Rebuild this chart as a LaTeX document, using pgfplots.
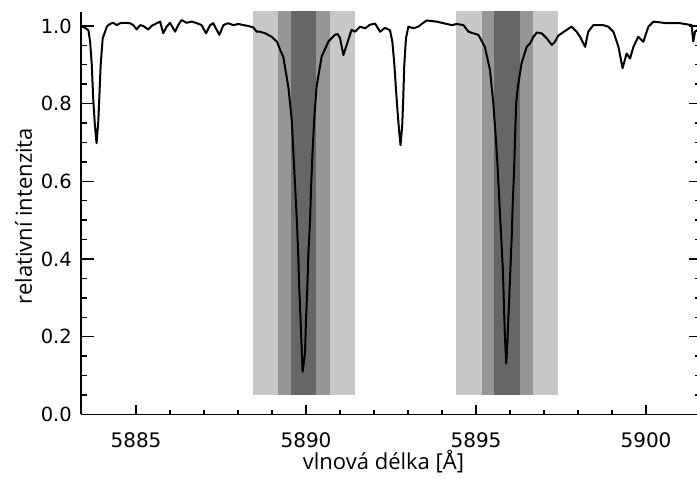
\documentclass[border=0pt]{standalone}
\usepackage{pgfplots}
\pgfplotsset{compat=1.18}
\usepackage{fontspec}
\setmainfont{DejaVu Sans}
\newfontfamily\labelfont{Open Sans}
\definecolor{bandA}{RGB}{200,200,200}
\definecolor{bandB}{RGB}{150,150,150}
\definecolor{bandC}{RGB}{102,102,102}
\begin{document}
\begin{tikzpicture}
\pgfplotsset{
  common/.style={
    width=617pt, height=402.4pt, scale only axis,
    xmin=5883.382, xmax=5901.529, ymin=0, ymax=1.0358,
    at={(0,0)}, anchor=south west, clip=true,
    /pgf/number format/assume math mode=true,
    /pgf/number format/set thousands separator={},
    tick style={line width=1.4pt, black},
  }
}
\begin{axis}[common,
  axis x line*=bottom, axis y line*=left,
  axis line style={line width=1.6pt, black, -},
  xtick={5885,5890,5895,5900}, minor x tick num=4,
  ytick=\empty,
  major tick length=9pt, minor tick length=4pt,
  xticklabel style={font=\fontsize{20}{24}\selectfont, anchor=north, inner sep=0pt, yshift=-18pt},
  xlabel={\labelfont\fontsize{22}{26}\selectfont vlnová délka [Å]},
  xlabel style={at={([xshift=-6pt,yshift=-55pt]axis description cs:0.5,0)}, anchor=base, inner sep=0pt},
  ylabel={\labelfont\fontsize{22}{26}\selectfont relativní intenzita},
  ylabel style={at={([xshift=-49pt,yshift=-3pt]axis description cs:0,0.5)}, anchor=base, inner sep=0pt},
]
\addplot[fill=bandA, draw=none] coordinates {(5888.44,0.05) (5891.44,0.05) (5891.44,1.1) (5888.44,1.1)} -- cycle;
\addplot[fill=bandB, draw=none] coordinates {(5889.18,0.05) (5890.71,0.05) (5890.71,1.1) (5889.18,1.1)} -- cycle;
\addplot[fill=bandC, draw=none] coordinates {(5889.55,0.05) (5890.29,0.05) (5890.29,1.1) (5889.55,1.1)} -- cycle;
\addplot[fill=bandA, draw=none] coordinates {(5894.41,0.05) (5897.42,0.05) (5897.42,1.1) (5894.41,1.1)} -- cycle;
\addplot[fill=bandB, draw=none] coordinates {(5895.17,0.05) (5896.67,0.05) (5896.67,1.1) (5895.17,1.1)} -- cycle;
\addplot[fill=bandC, draw=none] coordinates {(5895.54,0.05) (5896.30,0.05) (5896.30,1.1) (5895.54,1.1)} -- cycle;
\addplot[black, line width=2pt, line join=round, mark=none] table {
5883.38 0.998
5883.45 0.997
5883.50 0.995
5883.60 0.989
5883.65 0.959
5883.70 0.899
5883.74 0.814
5883.79 0.745
5883.84 0.698
5883.89 0.753
5883.92 0.814
5883.96 0.899
5884.02 0.968
5884.09 0.985
5884.14 0.998
5884.19 1.002
5884.24 1.005
5884.29 1.007
5884.33 1.008
5884.43 1.002
5884.53 1.007
5884.68 1.008
5884.82 1.007
5884.92 1.002
5885.02 0.991
5885.12 1.002
5885.21 1.000
5885.36 0.991
5885.46 1.000
5885.61 1.007
5885.71 1.011
5885.80 0.981
5885.90 0.998
5886.00 1.008
5886.15 0.985
5886.24 1.002
5886.34 1.015
5886.49 1.008
5886.64 1.011
5886.79 1.007
5886.93 1.002
5887.06 0.981
5887.18 1.002
5887.27 1.007
5887.45 0.977
5887.57 1.002
5887.71 1.007
5887.86 1.002
5888.01 1.005
5888.16 1.002
5888.30 1.000
5888.45 0.996
5888.55 0.985
5888.65 0.985
5888.80 0.981
5888.99 0.972
5889.15 0.959
5889.24 0.938
5889.33 0.921
5889.48 0.843
5889.58 0.758
5889.63 0.672
5889.68 0.586
5889.73 0.500
5889.77 0.415
5889.80 0.329
5889.84 0.243
5889.87 0.174
5889.90 0.110
5889.97 0.157
5890.00 0.243
5890.04 0.329
5890.07 0.415
5890.12 0.500
5890.15 0.586
5890.19 0.672
5890.24 0.758
5890.31 0.843
5890.46 0.921
5890.66 0.960
5890.85 0.977
5890.93 0.979
5891.00 0.969
5891.10 0.925
5891.24 0.963
5891.34 0.990
5891.44 0.985
5891.59 0.998
5891.74 0.994
5891.88 1.003
5892.03 1.006
5892.18 0.985
5892.32 0.995
5892.47 0.989
5892.54 0.959
5892.60 0.899
5892.65 0.831
5892.70 0.771
5892.74 0.728
5892.78 0.693
5892.83 0.745
5892.86 0.814
5892.89 0.899
5892.94 0.968
5893.01 0.998
5893.16 0.994
5893.30 0.998
5893.45 1.008
5893.55 1.014
5893.84 1.011
5894.14 1.005
5894.29 1.002
5894.43 1.005
5894.63 1.002
5894.78 0.985
5894.92 0.981
5895.07 0.977
5895.26 0.946
5895.41 0.887
5895.51 0.800
5895.58 0.715
5895.64 0.629
5895.69 0.543
5895.74 0.457
5895.79 0.372
5895.82 0.286
5895.85 0.200
5895.89 0.131
5895.93 0.200
5895.97 0.286
5896.01 0.372
5896.05 0.457
5896.08 0.543
5896.12 0.629
5896.15 0.715
5896.18 0.800
5896.23 0.843
5896.34 0.904
5896.49 0.946
5896.59 0.955
5896.69 0.972
5896.79 0.983
5896.93 0.981
5897.08 0.968
5897.23 0.951
5897.32 0.959
5897.42 0.975
5897.67 0.990
5897.81 0.998
5897.96 0.985
5898.06 0.972
5898.21 0.946
5898.30 0.985
5898.45 1.002
5898.74 1.002
5898.89 0.998
5899.04 0.985
5899.19 0.946
5899.31 0.891
5899.43 0.929
5899.53 0.916
5899.63 0.946
5899.77 0.972
5899.92 0.959
5900.07 0.998
5900.22 1.011
5900.61 1.007
5901.00 1.007
5901.34 1.002
5901.39 0.960
5901.44 0.985
5901.53 0.990
};
\end{axis}
\begin{axis}[common,
  hide x axis, axis y line*=left, axis line style={draw=none},
  xtick=\empty,
  ytick={0,0.2,0.4,0.6,0.8,1.0}, minor y tick num=3,
  major tick length=13pt, minor tick length=6pt,
  yticklabel style={font=\fontsize{19.5}{23}\selectfont, anchor=east, inner sep=0pt, xshift=-9pt,
    /pgf/number format/fixed, /pgf/number format/fixed zerofill, /pgf/number format/precision=1},
]
\end{axis}
\begin{axis}[common,
  hide x axis, axis y line*=right, axis line style={draw=none},
  xtick=\empty,
  ytick={0,0.2,0.4,0.6,0.8,1.0}, minor y tick num=3,
  major tick length=9pt, minor tick length=3.5pt,
  yticklabels={},
]
\end{axis}
\pgfresetboundingbox
\path (-81pt,-64.6pt) rectangle (616pt,414.4pt);
\end{tikzpicture}
\end{document}
